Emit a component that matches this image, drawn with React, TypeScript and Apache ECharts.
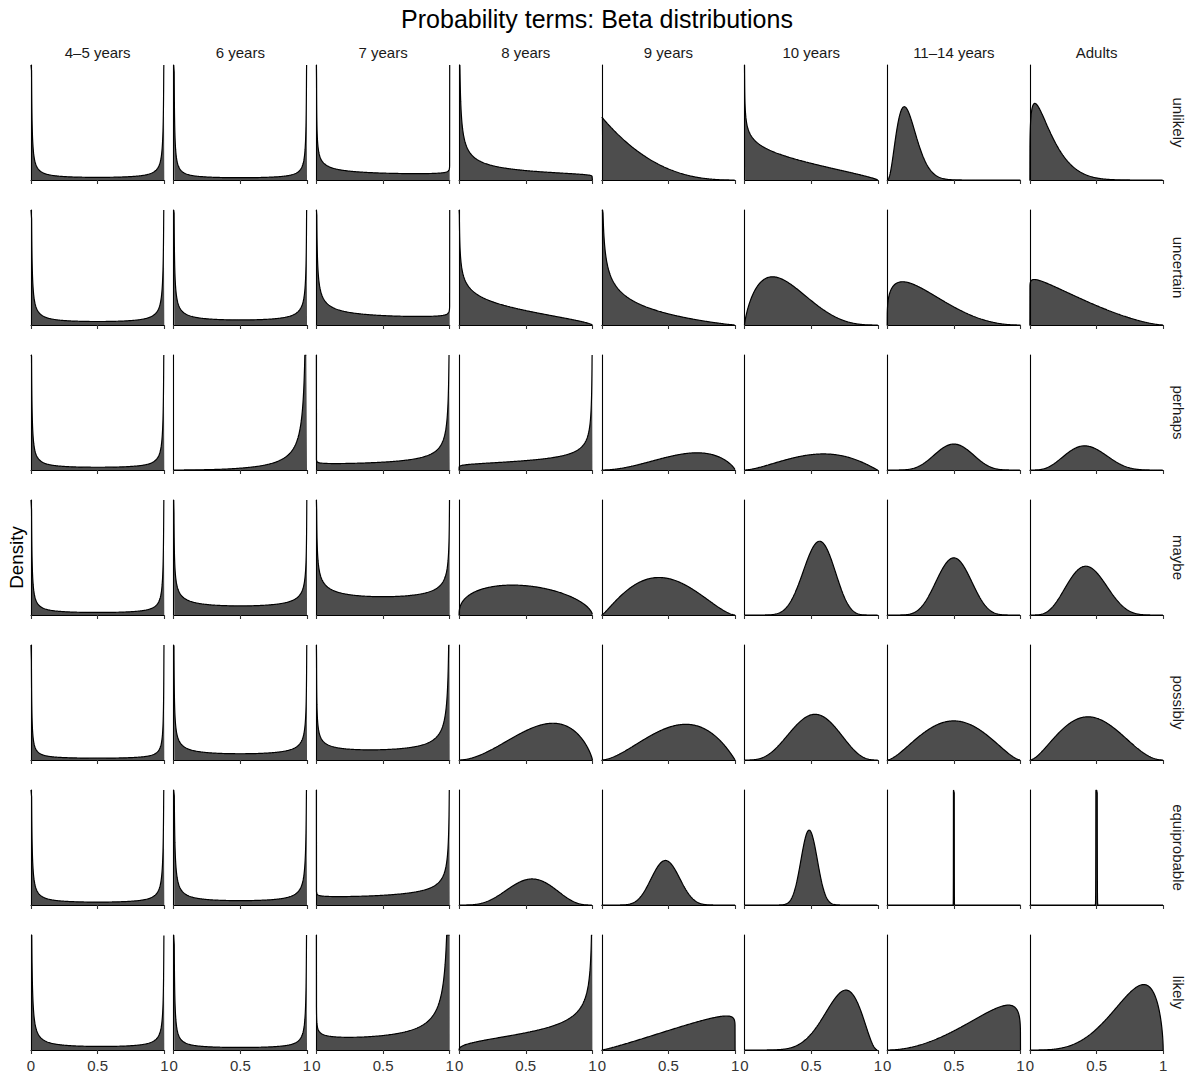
import React, { useEffect, useRef } from "react";
import * as echarts from "echarts";

const titleText = "Probability terms: Beta distributions";
const yAxisTitle = "Density";
const ageGroups = ["4–5 years", "6 years", "7 years", "8 years", "9 years", "10 years", "11–14 years", "Adults"];
const terms = ["unlikely", "uncertain", "perhaps", "maybe", "possibly", "equiprobable", "likely"];
const xTicks = [0, 0.5, 1];

// Beta shape parameters (alpha) per term (rows) and age group (columns)
const shape1ByTerm = [
  [0.1, 0.1, 0.55, 0.45, 1.0, 0.8, 3.5, 1.25],
  [0.15, 0.3, 0.5, 0.72, 0.62, 1.8, 1.3, 1.05],
  [0.1, 3.0, 0.9, 1.13, 3.0, 2.6, 7.0, 4.9],
  [0.1, 0.5, 0.64, 1.4, 2.2, 10.8, 8.2, 5.4],
  [0.1, 0.4, 0.56, 2.9, 2.7, 4.6, 2.6, 2.7],
  [0.1, 0.2, 0.9, 5.0, 11.5, 33.2, 100000, 30000],
  [0.1, 0.1, 0.77, 1.4, 2.15, 8.0, 3.0, 4.5],
];
// Beta shape parameters (beta)
const shape2ByTerm = [
  [0.1, 0.1, 0.85, 1.1, 3.5, 1.8, 18, 7.5],
  [0.15, 0.3, 0.85, 1.7, 2.14, 4.0, 3.3, 2.5],
  [0.1, 0.19, 0.4, 0.55, 1.8, 2.1, 7.0, 6.6],
  [0.1, 0.5, 0.64, 1.6, 2.6, 8.6, 8.2, 7.1],
  [0.1, 0.4, 0.35, 1.8, 2.0, 4.2, 2.6, 3.2],
  [0.1, 0.2, 0.5, 4.3, 12.5, 35.2, 100000, 30000],
  [0.2, 0.1, 0.28, 0.62, 1.08, 3.2, 1.2, 1.6],
];
// Upper limit of the density axis in each panel
const densityLimitByTerm = [
  [7.7, 8.8, 12.5, 7.9, 6.4, 6.0, 8.4, 7.2],
  [8.3, 10, 8.65, 6.5, 6.4, 5.17, 5.83, 5.5],
  [7.4, 6.8, 9.0, 9.1, 12, 11.9, 13.0, 12.8],
  [8.0, 8.06, 4.73, 4.95, 5.13, 5.45, 6.4, 6.6],
  [11, 10, 6.2, 5.5, 5.43, 5.8, 5.1, 4.98],
  [7.0, 8.4, 8.4, 10.5, 10, 10.1, 10, 10],
  [7.2, 8.0, 3.87, 5.17, 6.1, 5.8, 5.54, 4.37],
];

const FONT = "'Liberation Sans', Arial, Helvetica, sans-serif";
const SAMPLES = 2000;

function lnGamma(z: number): number {
  if (z < 0.5) return Math.log(Math.PI / Math.sin(Math.PI * z)) - lnGamma(1 - z);
  const c = [
    0.99999999999980993, 676.5203681218851, -1259.1392167224028, 771.32342877765313,
    -176.61502916214059, 12.507343278686905, -0.13857109526572012, 9.9843695780195716e-6,
    1.5056327351493116e-7,
  ];
  z -= 1;
  let x = c[0];
  for (let i = 1; i < 9; i++) x += c[i] / (z + i);
  const t = z + 7.5;
  return 0.5 * Math.log(2 * Math.PI) + (z + 0.5) * Math.log(t) - t + Math.log(x);
}

function betaCurve(a: number, b: number, top: number): number[][] {
  const lnB = lnGamma(a) + lnGamma(b) - lnGamma(a + b);
  const pts: number[][] = [];
  for (let i = 0; i <= SAMPLES; i++) {
    const x = i / SAMPLES;
    let y: number;
    if (i === 0) y = a < 1 ? Infinity : a === 1 ? Math.exp(-lnB) : 0;
    else if (i === SAMPLES) y = b < 1 ? Infinity : b === 1 ? Math.exp(-lnB) : 0;
    else y = Math.exp((a - 1) * Math.log(x) + (b - 1) * Math.log(1 - x) - lnB);
    pts.push([x, Math.min(y, top)]);
  }
  return pts;
}

export default function App() {
  const ref = useRef<HTMLDivElement>(null);
  useEffect(() => {
    document.body.style.margin = "0";
    if (!ref.current) return;
    const chart = echarts.init(ref.current, undefined, { renderer: "svg" });

    const left0 = 31;
    const colStep = 142.7;
    const panelW = 133.3;
    const top0 = 65;
    const rowStep = 145;
    const panelH = 115;

    const grids: any[] = [];
    const xAxes: any[] = [];
    const yAxes: any[] = [];
    const series: any[] = [];
    const graphics: any[] = [];

    terms.forEach((term, r) => {
      ageGroups.forEach((age, c) => {
        const idx = grids.length;
        const top = densityLimitByTerm[r][c];
        grids.push({
          left: left0 + c * colStep,
          top: top0 + r * rowStep,
          width: panelW,
          height: panelH,
          containLabel: false,
        });
        xAxes.push({
          gridIndex: idx,
          type: "value",
          min: 0,
          max: 1,
          interval: 0.5,
          z: 4,
          axisLine: { show: true, onZero: false, lineStyle: { color: "#000", width: 1.1 } },
          axisTick: { show: true, length: 4, lineStyle: { color: "#333", width: 1.1 } },
          axisLabel: {
            show: r === terms.length - 1,
            showMinLabel: true,
            showMaxLabel: true,
            margin: 8,
            fontSize: 15,
            fontFamily: FONT,
            color: "#333",
            formatter: (v: number) => (xTicks.indexOf(v) >= 0 ? String(v) : ""),
          },
          splitLine: { show: false },
        });
        yAxes.push({
          gridIndex: idx,
          type: "value",
          min: 0,
          max: top,
          z: 4,
          axisLine: { show: true, onZero: false, lineStyle: { color: "#000", width: 1.1 } },
          axisTick: { show: false },
          axisLabel: { show: false },
          splitLine: { show: false },
        });
        series.push({
          type: "line",
          xAxisIndex: idx,
          yAxisIndex: idx,
          data: betaCurve(shape1ByTerm[r][c], shape2ByTerm[r][c], top),
          showSymbol: false,
          symbol: "none",
          clip: true,
          silent: true,
          lineStyle: { color: "#000", width: 1.2 },
          areaStyle: { color: "#4d4d4d", opacity: 1 },
        });
      });
    });

    ageGroups.forEach((age, c) => {
      graphics.push({
        type: "text",
        x: left0 + c * colStep + panelW / 2,
        y: 52,
        style: { text: age, font: `15px ${FONT}`, fill: "#1a1a1a", textAlign: "center", textVerticalAlign: "middle" },
      });
    });
    terms.forEach((term, r) => {
      graphics.push({
        type: "text",
        x: 1178,
        y: top0 + r * rowStep + panelH / 2,
        rotation: -Math.PI / 2,
        style: { text: term, font: `15px ${FONT}`, fill: "#1a1a1a", textAlign: "center", textVerticalAlign: "middle" },
      });
    });
    graphics.push({
      type: "text",
      x: 597,
      y: 19,
      style: { text: titleText, font: `25px ${FONT}`, fill: "#000", textAlign: "center", textVerticalAlign: "middle" },
    });
    graphics.push({
      type: "text",
      x: 16,
      y: top0 + 3 * rowStep + panelH / 2,
      rotation: Math.PI / 2,
      style: { text: yAxisTitle, font: `18.75px ${FONT}`, fill: "#000", textAlign: "center", textVerticalAlign: "middle" },
    });

    chart.setOption({
      animation: false,
      backgroundColor: "#fff",
      grid: grids,
      xAxis: xAxes,
      yAxis: yAxes,
      series,
      graphic: graphics,
    });
    return () => chart.dispose();
  }, []);
  return (
    <div
      ref={ref}
      style={{ position: "absolute", left: 0, top: 0, width: 1192, height: 1077 }}
    />
  );
}
